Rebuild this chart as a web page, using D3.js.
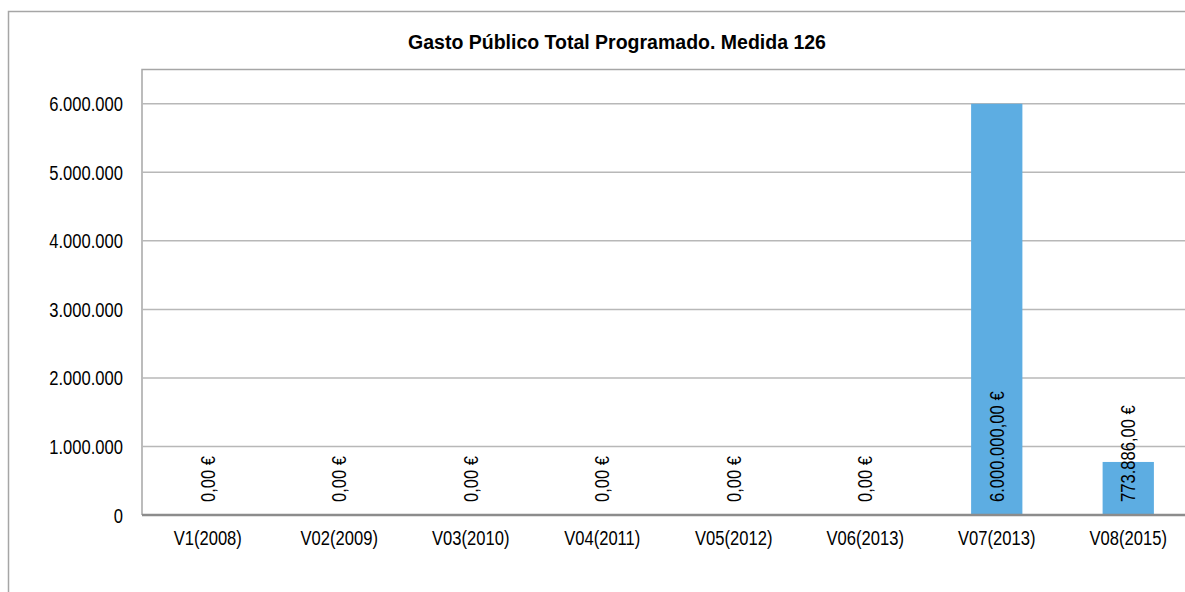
<!DOCTYPE html>
<html>
<head>
<meta charset="utf-8">
<script src="https://cdn.jsdelivr.net/npm/d3@7"></script>
<style>
	body { margin: 0; background: #fff; }
	text { font-family: "Liberation Sans", Arial, sans-serif; fill: #000; }
	.title { font-weight: bold; font-size: 19.5px; }
	.axis text { font-size: 19.5px; }
	.lbl { font-size: 19.5px; }
</style>
</head>
<body>
<div id="chart"></div>
<script>
document.title = "Gasto Público Total Programado. Medida 126";

// data
const categories = ["V1(2008)", "V02(2009)", "V03(2010)", "V04(2011)", "V05(2012)", "V06(2013)", "V07(2013)", "V08(2015)"];
const values     = [0, 0, 0, 0, 0, 0, 6000000, 773886];
const yTicks     = [0, 1000000, 2000000, 3000000, 4000000, 5000000, 6000000];
const yMax       = 6500000;

const width  = 1185
	, height = 592
	, narrow = 0.85   // squeeze for the narrow face used by the original
	, plot   = { left: 142, top: 69.5, right: 1194, bottom: 515 };

const es = d3.formatLocale({
	decimal:   ",",
	thousands: ".",
	grouping:  [3],
	currency:  ["", " €"]
});
const fmtAxis  = es.format(",.0f")
	, fmtValue = es.format("$,.2f");

const svg = d3.select("#chart")
	.append("svg")
		.attr("width", width)
		.attr("height", height);

// outer chart frame
svg.append("rect")
	.attr("x", 8.5)
	.attr("y", 11.5)
	.attr("width", 1240)
	.attr("height", 620)
	.attr("fill", "#fff")
	.attr("stroke", "#a6a6a6")
	.attr("stroke-width", 1.5);

svg.append("text")
	.attr("class", "title")
	.attr("x", 617)
	.attr("y", 49)
	.attr("text-anchor", "middle")
	.text("Gasto Público Total Programado. Medida 126");

const x = d3.scaleBand()
	.domain(categories)
	.range([plot.left, plot.right])
	.paddingInner(0.61)
	.paddingOuter(0.305);

const y = d3.scaleLinear()
	.domain([0, yMax])
	.range([plot.bottom, plot.top]);

// plot area border (top / left)
svg.append("path")
	.attr("d", "M" + plot.left + "," + plot.bottom + "V" + plot.top + "H" + (plot.right + 10))
	.attr("fill", "none")
	.attr("stroke", "#a6a6a6")
	.attr("stroke-width", 1.5);

// gridlines
svg.append("g")
	.selectAll("line")
	.data(yTicks.filter(d => d > 0))
	.join("line")
		.attr("x1", plot.left)
		.attr("x2", plot.right + 10)
		.attr("y1", d => y(d))
		.attr("y2", d => y(d))
		.attr("stroke", "#b8b8b8")
		.attr("stroke-width", 1.5);

// y axis labels
const yAxis = svg.append("g")
	.attr("class", "axis")
	.attr("transform", "translate(" + plot.left + ",0)")
	.call(d3.axisLeft(y)
		.tickValues(yTicks)
		.tickFormat(fmtAxis)
		.tickSize(0)
		.tickPadding(19));
yAxis.select(".domain").remove();
yAxis.selectAll("text").attr("dy", "0.36em");

// bars
svg.append("g")
	.selectAll("rect")
	.data(values)
	.join("rect")
		.attr("x", (d, i) => x(categories[i]))
		.attr("y", d => y(d))
		.attr("width", x.bandwidth())
		.attr("height", d => y(0) - y(d))
		.attr("fill", "#5dade2");

// x axis
const xAxis = svg.append("g")
	.attr("class", "axis")
	.attr("transform", "translate(0," + plot.bottom + ")")
	.call(d3.axisBottom(x)
		.tickSize(0)
		.tickPadding(16));
xAxis.select(".domain")
	.attr("d", "M" + plot.left + ",0H" + (plot.right + 10))
	.attr("stroke", "#8c8c8c")
	.attr("stroke-width", 2.5);

// value labels
svg.append("g")
	.selectAll("text")
	.data(values)
	.join("text")
		.attr("class", "lbl")
		.attr("transform", (d, i) => "translate(" + (x(categories[i]) + x.bandwidth() / 2 + 7) + "," + (plot.bottom - 13) + ") rotate(-90)")
		.attr("text-anchor", "start")
		.text(d => fmtValue(d));

// squeeze axis and value texts
svg.selectAll(".axis text, .lbl").each(function() {
	const w = this.getComputedTextLength();
	d3.select(this)
		.attr("textLength", w * narrow)
		.attr("lengthAdjust", "spacingAndGlyphs");
});
</script>
</body>
</html>
